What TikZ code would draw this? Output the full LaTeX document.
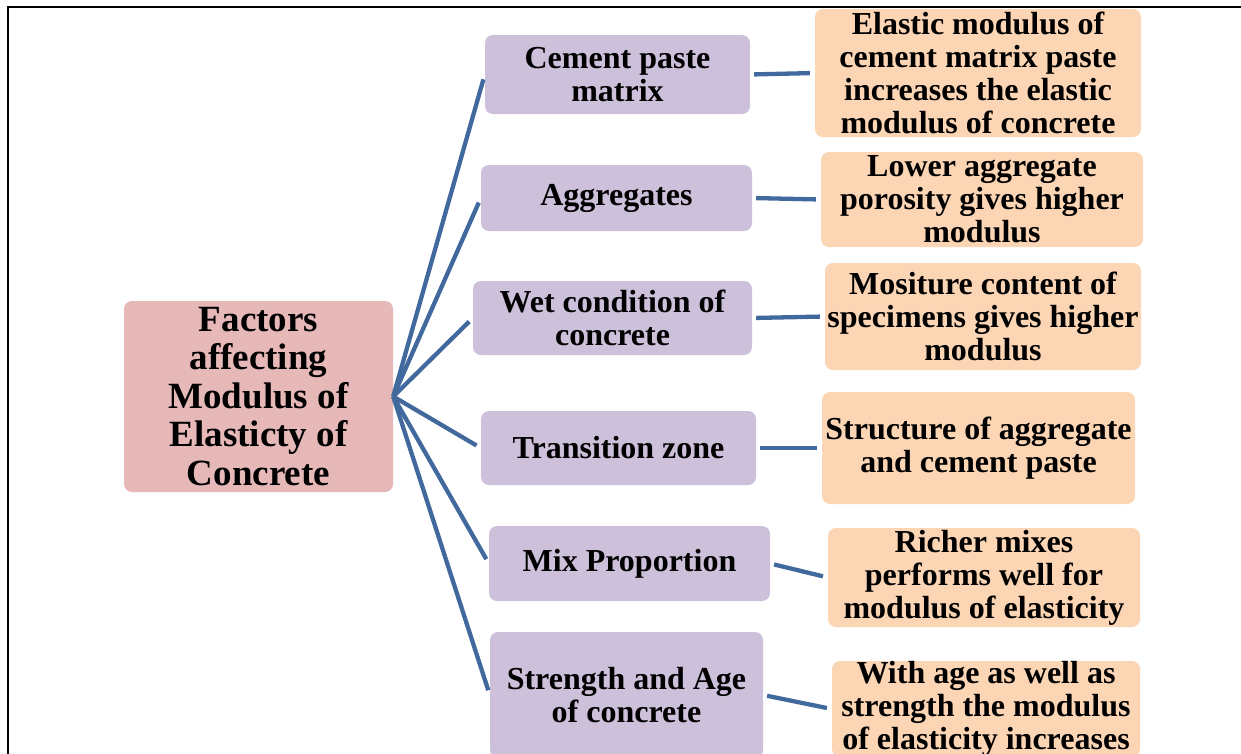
\documentclass[tikz,border=0pt]{standalone}
\usepackage{fontspec}
\setmainfont{Liberation Serif}
\usetikzlibrary{positioning}
\definecolor{rootfill}{HTML}{E6B9B8}
\definecolor{factorfill}{HTML}{CCC0DA}
\definecolor{effectfill}{HTML}{FCD5B5}
\definecolor{link}{HTML}{41699D}

\begin{document}
\begin{tikzpicture}[x=1pt,y=-1pt,
  every node/.style={font=\bfseries\fontsize{32}{33}\selectfont,align=center,inner sep=0pt,rounded corners=8pt},
  rootbox/.style={fill=rootfill,font=\bfseries\fontsize{37}{38.5}\selectfont},
  factor/.style={fill=factorfill},
  effect/.style={fill=effectfill},
  link/.style={draw=link,line width=4.3pt}]
\clip (0,0) rectangle (1241,753);
\draw[line width=2pt] (8,7) rectangle (1260,770);
% centre
\node[rootbox,minimum width=269pt,minimum height=191pt] (root) at (258.5,396.5) {Factors\\affecting\\Modulus of\\Elasticty of\\Concrete};
% factors
\node[factor,minimum width=265pt,minimum height=79pt] (f1) at (617.5,74.5) {Cement paste\\matrix};
\node[factor,minimum width=271pt,minimum height=66pt] (f2) at (616.5,198) {Aggregates};
\node[factor,minimum width=279pt,minimum height=74pt] (f3) at (612.5,318) {Wet condition of\\concrete};
\node[factor,minimum width=275pt,minimum height=74pt] (f4) at (618.5,448) {Transition zone};
\node[factor,minimum width=281pt,minimum height=75pt] (f5) at (629.5,563.5) {Mix Proportion};
\node[factor,minimum width=273pt,minimum height=126pt] (f6) at (626.5,695) {Strength and Age\\of concrete};
% effects
\node[effect,minimum width=326pt,minimum height=128pt] (e1) at (978,73) {Elastic modulus of\\cement matrix paste\\increases the elastic\\modulus of concrete};
\node[effect,minimum width=322pt,minimum height=95pt] (e2) at (982,199.5) {Lower aggregate\\porosity gives higher\\modulus};
\node[effect,minimum width=316pt,minimum height=107pt] (e3) at (983,316.5) {Mositure content of\\specimens gives higher\\modulus};
\node[effect,minimum width=313pt,minimum height=112pt] (e4) at (978.5,448) {Structure of aggregate\\and cement paste};
\node[effect,minimum width=312pt,minimum height=99pt] (e5) at (984,577.5) {Richer mixes\\performs well for\\modulus of elasticity};
\node[effect,minimum width=308pt,minimum height=96pt] (e6) at (986,709) {With age as well as\\strength the modulus\\of elasticity increases};
% links
\foreach \i in {1,...,6}{
  \draw[link,shorten >=5pt] (root.east) -- (f\i.west);
  \draw[link,shorten <=4pt,shorten >=5pt] (f\i.east) -- (e\i.west);
}
\end{tikzpicture}
\end{document}
